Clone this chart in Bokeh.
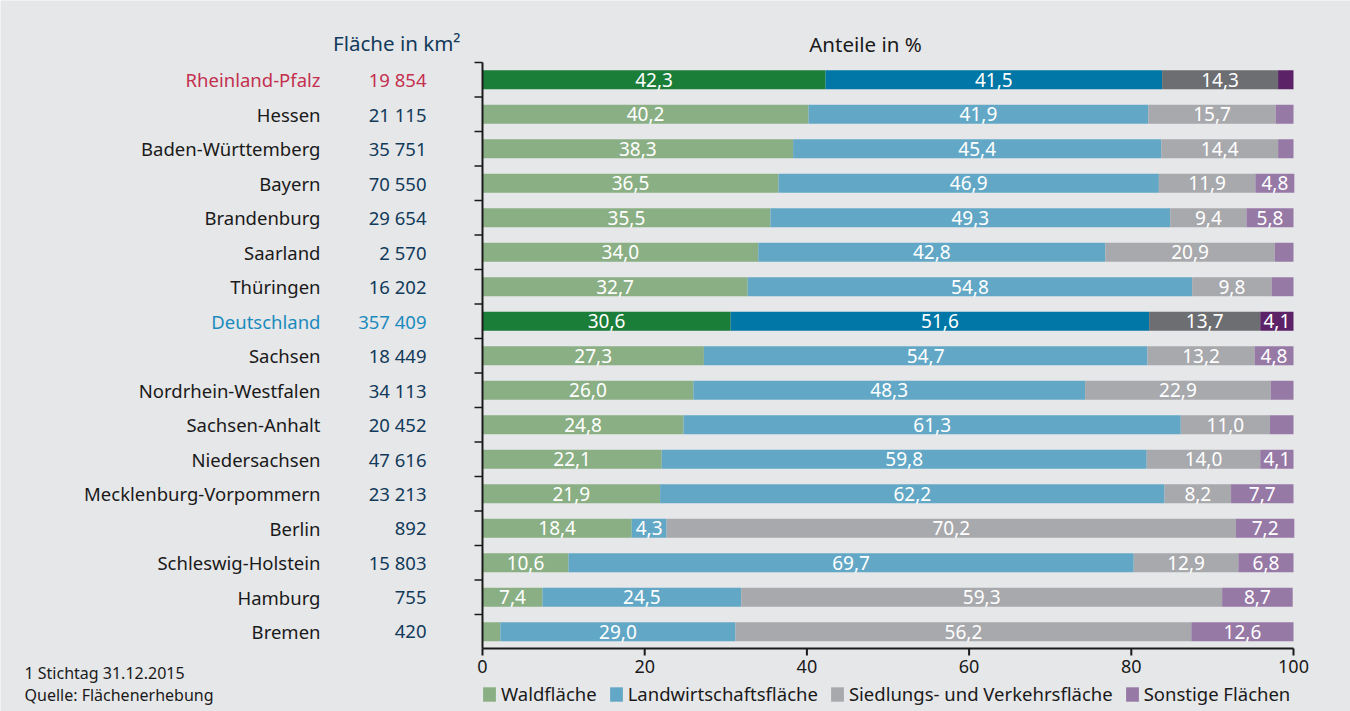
from bokeh.plotting import figure
from bokeh.models import Range1d, Legend, LegendItem, ColumnDataSource
from bokeh.core.properties import value
from bokeh.embed import file_html
from bokeh.resources import INLINE

states = ["Rheinland-Pfalz", "Hessen", "Baden-Württemberg", "Bayern", "Brandenburg",
          "Saarland", "Thüringen", "Deutschland", "Sachsen", "Nordrhein-Westfalen",
          "Sachsen-Anhalt", "Niedersachsen", "Mecklenburg-Vorpommern", "Berlin",
          "Schleswig-Holstein", "Hamburg", "Bremen"]
area_km2 = [19854, 21115, 35751, 70550, 29654, 2570, 16202, 357409, 18449, 34113,
            20452, 47616, 23213, 892, 15803, 755, 420]
wald = [42.3, 40.2, 38.3, 36.5, 35.5, 34.0, 32.7, 30.6, 27.3, 26.0, 24.8, 22.1, 21.9, 18.4, 10.6, 7.4, 2.2]
landw = [41.5, 41.9, 45.4, 46.9, 49.3, 42.8, 54.8, 51.6, 54.7, 48.3, 61.3, 59.8, 62.2, 4.3, 69.7, 24.5, 29.0]
siedl = [14.3, 15.7, 14.4, 11.9, 9.4, 20.9, 9.8, 13.7, 13.2, 22.9, 11.0, 14.0, 8.2, 70.2, 12.9, 59.3, 56.2]
sonst = [1.9, 2.2, 1.9, 4.8, 5.8, 2.3, 2.7, 4.1, 4.8, 2.8, 2.9, 4.1, 7.7, 7.2, 6.8, 8.7, 12.6]
categories = ["Waldfläche", "Landwirtschaftsfläche", "Siedlungs- und Verkehrsfläche", "Sonstige Flächen"]
x_ticks = [0, 20, 40, 60, 80, 100]

FONT = "Noto Sans"
BG = "#e6e7e9"
TXT = "#1a1a1a"
NAVY = "#123a5a"
light = ["#8aaf84", "#62a8c6", "#a8a9ad", "#9779a6"]
dark = ["#1a7d38", "#0077a6", "#6d6e71", "#5c2267"]
highlight = {"Rheinland-Pfalz": "#c4304f", "Deutschland": "#1b8bbd"}

W, H = 1350, 711
n = len(states)
# layout in page pixels
X0, X100 = 482.0, 1293.0      # x data 0 and 100
TOP, ROW = 62.0, 34.5          # top of first row band, row pitch
px_x = (X100 - X0) / 100.0

def dx(px):
    return (px - X0) / px_x

def dy(py):
    return (py - TOP) / ROW - 0.5

p = figure(width=W, height=H, output_backend="svg", toolbar_location=None,
           x_axis_location=None, y_axis_location=None,
           x_range=Range1d(dx(0), dx(W)), y_range=Range1d(dy(H), dy(0)),
           min_border=0)
p.background_fill_color = BG
p.border_fill_color = BG
p.outline_line_color = None
p.grid.visible = False

ys = list(range(n))
series = [wald, landw, siedl, sonst]
renderers = []
left = [0.0] * n
for k, vals in enumerate(series):
    right = [l + v for l, v in zip(left, vals)]
    colors = [dark[k] if s in highlight else light[k] for s in states]
    src = ColumnDataSource(dict(y=ys, left=left, right=right, color=colors,
                                mid=[(l + r) / 2 for l, r in zip(left, right)],
                                lab=[(f"{v:.1f}".replace(".", ",") if v >= 4 else "") for v in vals]))
    r = p.hbar(y="y", left="left", right="right", height=0.55, fill_color="color",
               line_color=None, source=src)
    renderers.append(r)
    p.text(x="mid", y="y", text="lab", source=src, text_color="white",
           text_align="center", text_baseline="middle",
           text_font=value(FONT), text_font_size="19px")
    left = right

# axis lines drawn as glyphs
y_bottom = dy(648)
p.segment(x0=[0], y0=[y_bottom], x1=[100], y1=[y_bottom], line_color=TXT, line_width=2)
p.segment(x0=[0], y0=[-0.5], x1=[0], y1=[y_bottom], line_color=TXT, line_width=2)
p.segment(x0=x_ticks, y0=[y_bottom] * len(x_ticks), x1=x_ticks,
          y1=[dy(655)] * len(x_ticks), line_color=TXT, line_width=2)
yt = [i - 0.5 for i in range(n)]
p.segment(x0=[dx(474)] * n, y0=yt, x1=[0] * n, y1=yt, line_color=TXT, line_width=1.5)
p.text(x=x_ticks, y=[dy(666)] * len(x_ticks), text=[str(t) for t in x_ticks],
       text_align="center", text_baseline="middle", text_font=value(FONT),
       text_font_size="18px", text_color=TXT)

# left labels
name_cols = [highlight.get(s, TXT) for s in states]
num_cols = [highlight.get(s, NAVY) for s in states]
p.text(x=[dx(320)] * n, y=ys, text=states, text_align="right", text_baseline="middle",
       text_font=value(FONT), text_font_size="18.5px", text_color=name_cols)
p.text(x=[dx(426)] * n, y=ys, text=[f"{a:,}".replace(",", " ") for a in area_km2],
       text_align="right", text_baseline="middle", text_font=value(FONT),
       text_font_size="18.5px", text_color=num_cols)

p.text(x=[dx(460)], y=[dy(42)], text=["Fläche in km²"], text_align="right",
       text_baseline="middle", text_font=value(FONT), text_font_size="20.5px", text_color=NAVY)
p.text(x=[dx(865)], y=[dy(43)], text=["Anteile in %"], text_align="center",
       text_baseline="middle", text_font=value(FONT), text_font_size="20.5px", text_color=TXT)
p.text(x=[dx(24)] * 2, y=[dy(672), dy(694)],
       text=["1 Stichtag 31.12.2015", "Quelle: Flächenerhebung"], text_align="left",
       text_baseline="middle", text_font=value(FONT), text_font_size="16px", text_color=TXT)

legend = Legend(items=[LegendItem(label=c, renderers=[r], index=1) for c, r in zip(categories, renderers)],
                orientation="horizontal", location=(481, 5), margin=0, padding=0,
                spacing=11, label_standoff=4, glyph_width=16, glyph_height=18,
                label_text_font=FONT, label_text_font_size="18.5px", label_text_color=TXT,
                background_fill_alpha=0, border_line_color=None)
p.add_layout(legend)

open("out.html", "w").write(file_html(p, INLINE))
